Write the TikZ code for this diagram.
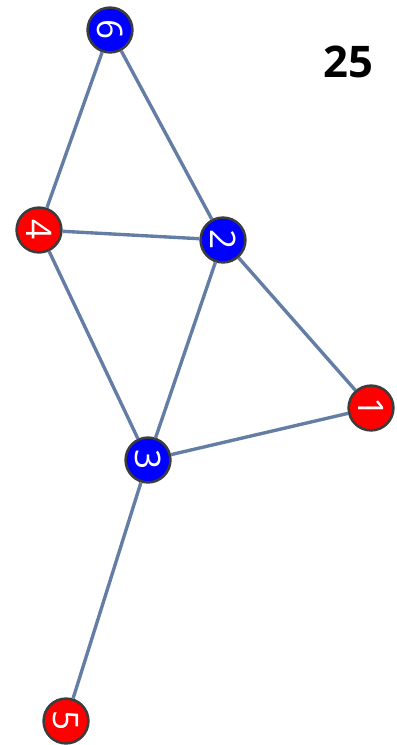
\documentclass[tikz,border=0pt]{standalone}
\usepackage{fontspec}
\setmainfont{Open Sans}
\usepackage{tikz}
\usetikzlibrary{positioning}
\definecolor{edgeblue}{RGB}{100,125,165}
\definecolor{rimgray}{RGB}{60,60,60}
\tikzset{
  vtx/.style={
    inner sep = 0pt,
    shape = circle,
    minimum size = 1.12cm,
    draw = rimgray,
    line width = 1.8pt,
    text = white,
    font = \fontsize{25}{25}\selectfont
  },
  redv/.style={
    vtx,
    fill = red
  },
  bluev/.style={
    vtx,
    fill = blue
  },
  link/.style={
    draw = edgeblue,
    line width = 2.4pt
  }
}
\begin{document}
\begin{tikzpicture}[x=0.025cm,y=-0.025cm]
    \useasboundingbox (0,0) rectangle (396,745);
    \node[bluev] (n6) at (110,30) {\rotatebox{-90}{6}};
    \node[redv] (n4) at (39,230) {\rotatebox{-90}{4}};
    \node[bluev] (n2) at (223,240) {\rotatebox{-90}{2}};
    \node[redv] (n1) at (371,408) {\rotatebox{-90}{1}};
    \node[bluev] (n3) at (148,460) {\rotatebox{-90}{3}};
    \node[redv] (n5) at (66,721) {\rotatebox{-90}{5}};
    \foreach \a/\b in {n6/n4, n6/n2, n4/n2, n4/n3, n2/n3, n2/n1, n3/n1, n3/n5}{
        \draw[link] (\a) -- (\b);
    }
    \node[font=\fontsize{31}{31}\selectfont\bfseries] (num) at (348,62) {25};
\end{tikzpicture}
\end{document}
